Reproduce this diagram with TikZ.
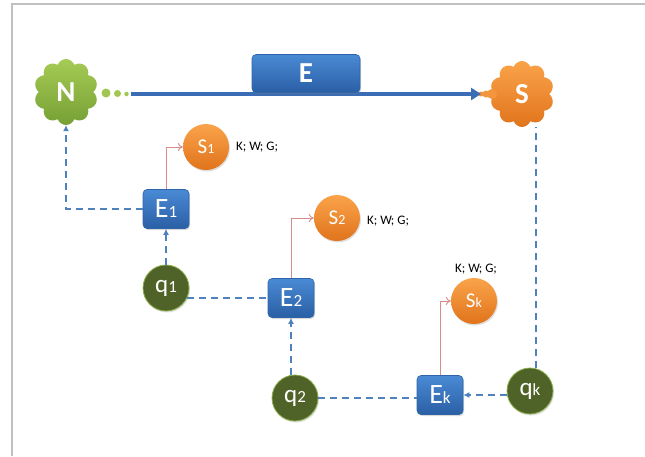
\documentclass[tikz,border=0pt]{standalone}
\usepackage{fontspec}
\setmainfont{Carlito}
\usetikzlibrary{shapes.symbols,shadows,arrows.meta}

\definecolor{boxtop}{HTML}{4A8AD4}
\definecolor{boxbot}{HTML}{2A5FA5}
\definecolor{boxedge}{HTML}{2F65A8}
\definecolor{orgtop}{HTML}{FAA34A}
\definecolor{orgbot}{HTML}{E0741C}
\definecolor{olive}{HTML}{4F6228}
\definecolor{oliveedge}{HTML}{8CB04A}
\definecolor{grntop}{HTML}{A6CB55}
\definecolor{grnbot}{HTML}{76A035}
\definecolor{linkblue}{HTML}{4F81BD}
\definecolor{mainblue}{HTML}{3A6DB5}
\definecolor{linkred}{HTML}{D98A8C}
\definecolor{framegray}{HTML}{C0C0C0}

\tikzset{
  ebox/.style={rectangle, rounded corners=4pt, minimum width=46pt, minimum height=39pt,
    top color=boxtop, bottom color=boxbot, draw=boxedge, line width=0.6pt,
    text=white, font=\fontsize{28}{28}\selectfont, inner sep=0pt,
    drop shadow={opacity=0.3, shadow xshift=1pt, shadow yshift=-1.5pt}},
  sball/.style={circle, minimum size=46pt, inner sep=0pt,
    top color=orgtop, bottom color=orgbot, draw=none,
    text=white, font=\fontsize{21}{21}\selectfont,
    drop shadow={opacity=0.25, shadow xshift=1pt, shadow yshift=-1.5pt}},
  qball/.style={circle, minimum size=46pt, inner sep=0pt,
    fill=olive, draw=oliveedge, line width=0.8pt,
    text=white, font=\fontsize{25}{25}\selectfont,
    drop shadow={opacity=0.25, shadow xshift=1pt, shadow yshift=-1.5pt}},
  blob/.style={cloud, cloud puffs=10, cloud puff arc=140, cloud ignores aspect,
    minimum width=64pt, minimum height=66pt, inner sep=0pt, draw=none,
    text=white, font=\fontsize{29}{29}\selectfont\bfseries},
  kwg/.style={font=\fontsize{13}{13}\selectfont, text=black, inner sep=0pt},
  bdash/.style={draw=linkblue, line width=2.2pt, dash pattern=on 7pt off 5pt},
  btip/.style={-{Latex[length=6pt,width=6pt]}},
  rlink/.style={draw=linkred, line width=0.9pt, -{To[length=5pt,width=8pt]}},
}
\newcommand{\sbs}[1]{{\fontsize{17}{17}\selectfont #1}}
\newcommand{\ssbs}[1]{{\fontsize{14}{14}\selectfont #1}}

\begin{document}
\begin{tikzpicture}[x=1pt,y=-1pt]
\useasboundingbox (0,0) rectangle (645,456);

% page frame
\draw[framegray, line width=2pt] (12,456) -- (12,3.5) -- (645,3.5);

% end clouds
\node[blob, top color=grntop, bottom color=grnbot] (N) at (66,92) {N};
\node[blob, top color=orgtop, bottom color=orgbot] (S) at (522,94) {S};

% thought dots after N and puffs before S
\node[circle, fill=grntop!90!grnbot, minimum size=9pt, inner sep=0pt] (d1) at (106,93) {};
\node[circle, fill=grntop!90!grnbot, minimum size=7pt, inner sep=0pt] (d2) at (117.5,93.5) {};
\node[circle, fill=grntop!90!grnbot, minimum size=4.5pt, inner sep=0pt] (d3) at (126.5,94) {};
\node[circle, fill=orgtop!70!orgbot, minimum size=5pt, inner sep=0pt] (p1) at (481,94) {};
\node[circle, fill=orgtop!70!orgbot, minimum size=7pt, inner sep=0pt] (p2) at (486,94) {};
\node[circle, fill=orgtop!70!orgbot, minimum size=10pt, inner sep=0pt] (p3) at (492,94) {};
\coordinate (Stip) at (481,94);

% main link N -> S
\draw[mainblue, line width=4.5pt, -{Triangle[length=10pt,width=12pt]}] (d3.east) ++(2,0) coordinate (Nstart) (Nstart) -- (Stip);
\node[ebox, minimum width=108pt, minimum height=38pt, font=\fontsize{29}{29}\selectfont\bfseries] (E) at (306,73.5) {E};

% stage boxes
\node[ebox] (E1) at (166,209) {E\sbs{1}};
\node[ebox] (E2) at (291,298) {E\sbs{2}};
\node[ebox] (Ek) at (440,395) {E\sbs{k}};

% outcome balls
\node[sball] (S1) at (206,147) {S\ssbs{1}};
\node[sball] (S2) at (337,218) {S\ssbs{2}};
\node[sball] (Sk) at (474,301) {S\ssbs{k}};

% query balls
\node[qball] (q1) at (166,288) {q\sbs{1}};
\node[qball] (q2) at (295,398) {q\sbs{2}};
\node[qball] (qk) at (530,391) {q\sbs{k}};

% attributes
\node[kwg, anchor=west] (a1) at (236,147) {K; W; G;};
\node[kwg, anchor=west] (a2) at (367,221) {K; W; G;};
\node[kwg] (ak) at (476,269) {K; W; G;};

% dashed control flow
\draw[bdash, btip] (E1.west) -| (N.south);
\draw[bdash, btip] (q1.north) -- (E1.south);
\draw[bdash] (q1.-25) -- (q1.-25 -| E2.west);
\draw[bdash, btip] (E2.south |- q2.north) -- (E2.south);
\draw[bdash] (q2.east) -- (q2.east -| Ek.west);
\draw[bdash, btip] (qk.west |- Ek.east) -- (Ek.east);
\draw[bdash] (qk.75) -- (qk.75 |- S.south);

% result links
\draw[rlink] (E1.north) |- (S1.west);
\draw[rlink] (E2.north) |- (S2.west);
\draw[rlink] (Ek.north) |- (Sk.west);
\end{tikzpicture}
\end{document}
